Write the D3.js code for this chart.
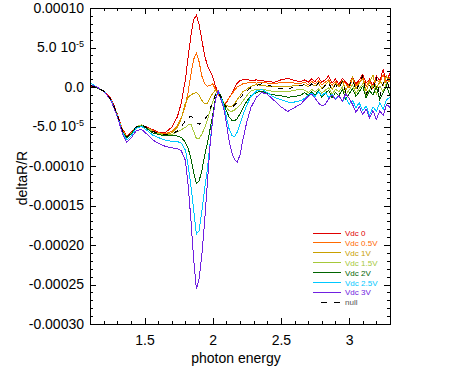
<!DOCTYPE html>
<html>
<head>
<meta charset="utf-8">
<script src="https://cdn.jsdelivr.net/npm/d3@7"></script>
<style>
  body { margin: 0; background: #fff; }
  svg { display: block; font-family: "Liberation Sans", Arial, sans-serif; }
</style>
</head>
<body>
<svg id="chart" width="456" height="388"></svg>
<script>
// photon energy grid (eV)
const energy = [1.10,1.15,1.20,1.25,1.28,1.31,1.34,1.37,1.40,1.44,1.48,1.52,1.56,1.60,1.65,
  1.70,1.74,1.77,
  1.80,1.82,1.84,1.86,1.88,1.90,1.92,1.94,1.96,1.98,2.00,2.02,2.04,2.06,2.08,2.10,2.12,2.14,2.16,2.18,2.20,2.22,
  2.25,2.28,2.32,2.36,2.40,2.45,2.50,2.55,2.60,2.65,
  2.675,2.70,2.725,2.75,2.775,2.80,2.825,2.85,2.875,2.90,2.925,2.95,2.975,3.00,3.025,3.05,3.075,3.10,3.125,3.15,3.175,3.20,3.225,3.25,3.275,3.30];

// deltaR/R values, in units of 1e-5
const vdc0 = [0.1,-0.1,-0.5,-1.4,-2.5,-3.9,-5.4,-6.2,-5.8,-5.0,-4.8,-5.1,-5.4,-5.7,-5.8,
  -5.1,-3.8,-2.0,
  1.0,3.8,6.5,8.5,9.1,7.9,6.0,4.0,2.8,2.0,1.3,0.1,-0.7,-1.4,-2.1,-2.0,-1.4,-0.8,-0.1,0.5,0.8,0.9,
  1.0,0.8,0.9,0.8,0.7,0.6,0.9,1.1,0.8,0.7,
  0.9,0.6,1.0,0.7,1.2,0.6,0.9,1.4,0.5,1.0,0.3,1.1,0.6,0.2,1.3,0.4,0.9,1.6,0.5,1.0,0.2,1.4,0.8,2.2,0.6,1.8];
const vdc05 = [0.2,-0.1,-0.5,-1.5,-2.6,-4.0,-5.5,-6.3,-5.9,-5.1,-4.8,-5.2,-5.5,-5.8,-5.9,
  -5.6,-4.9,-3.9,
  -2.3,-0.6,1.6,3.5,4.3,3.2,1.4,0.4,0.1,0.2,0.4,-0.3,-0.9,-1.5,-2.1,-1.9,-1.4,-0.9,-0.4,0.0,0.2,0.4,
  0.5,0.6,0.5,0.6,0.5,0.4,0.6,0.6,0.5,0.5,
  0.6,0.3,0.7,0.4,0.8,0.3,0.6,0.9,0.2,0.7,0.0,0.8,0.4,-0.1,1.0,0.2,0.6,1.2,0.1,0.8,-0.2,1.0,0.5,1.6,0.3,1.2];
const vdc1 = [0.2,-0.1,-0.5,-1.5,-2.6,-4.0,-5.6,-6.4,-5.9,-5.1,-4.8,-5.2,-5.6,-5.9,-6.0,
  -5.8,-5.1,-4.0,
  -2.0,-1.3,-1.0,-0.8,-0.7,-1.0,-1.7,-2.1,-2.1,-1.4,-0.8,-0.4,-0.5,-1.2,-2.1,-2.3,-2.5,-2.4,-2.1,-1.6,-1.1,-0.6,
  -0.3,0.1,0.3,0.2,0.1,0.0,0.1,0.0,0.2,0.2,
  0.3,0.0,0.4,0.1,0.5,-0.2,0.3,0.7,-0.3,0.4,0.1,0.8,-0.4,0.2,1.2,-0.2,0.5,1.0,-0.5,0.6,1.5,-0.3,0.8,0.2,1.4,0.6];
const vdc15 = [0.2,-0.1,-0.5,-1.5,-2.6,-4.0,-5.6,-6.4,-5.9,-5.0,-4.8,-5.2,-5.6,-5.9,-6.1,
  -6.0,-5.7,-5.4,
  -5.1,-4.8,-4.7,-5.6,-6.5,-6.5,-6.0,-5.2,-4.2,-3.0,-1.9,-0.8,-0.5,-1.2,-2.0,-2.6,-3.0,-3.1,-2.9,-2.6,-2.3,-1.8,
  -1.1,-0.5,-0.3,-0.3,-0.4,-0.6,-0.6,-0.6,-0.4,-0.3,
  -0.4,-0.7,-0.3,-0.6,-0.2,-0.8,-0.4,-0.1,-0.9,-0.3,-0.6,0.0,-1.0,-0.4,0.3,-0.8,-0.2,0.4,-1.1,-0.3,0.2,-0.9,0.1,-0.6,0.6,-0.2];
const vdc2 = [0.2,-0.1,-0.5,-1.5,-2.6,-4.1,-5.7,-6.5,-6.0,-5.1,-4.9,-5.3,-5.8,-6.0,-6.2,
  -6.2,-6.2,-6.4,
  -7.0,-7.8,-9.0,-10.8,-12.2,-11.9,-10.6,-8.7,-7.2,-5.4,-3.5,-1.5,-0.4,-1.1,-2.1,-3.0,-3.8,-4.2,-4.3,-4.0,-3.4,-2.7,
  -1.8,-1.1,-0.7,-0.5,-0.8,-1.0,-1.1,-1.3,-1.2,-1.0,
  -0.7,-1.1,-0.6,-1.0,-0.5,-1.3,-0.8,-0.4,-1.4,-0.7,-1.1,-0.3,-1.5,-0.9,-0.2,-1.2,-0.6,0.1,-1.4,-0.5,-1.0,0.0,-1.6,-0.7,0.2,-1.1];
const vdc25 = [0.5,0.0,-0.5,-1.5,-2.7,-4.2,-5.8,-6.7,-6.2,-5.2,-5.0,-5.5,-6.1,-6.4,-6.7,
  -6.9,-6.9,-7.1,
  -8.0,-10.0,-12.5,-15.5,-18.6,-18.2,-15.8,-13.0,-10.5,-7.2,-4.0,-1.6,-0.4,-1.3,-2.3,-3.8,-5.3,-6.1,-6.3,-5.7,-4.7,-3.6,
  -2.3,-1.2,-0.5,-0.3,-0.7,-1.3,-1.6,-1.9,-1.9,-1.7,
  -1.4,-1.0,-0.8,-1.2,-0.6,-1.1,-0.7,-1.3,-0.9,-1.5,-1.1,-1.8,-1.3,-2.2,-1.7,-2.6,-2.0,-3.0,-2.4,-3.6,-2.5,-3.1,-2.0,-2.8,-1.6,-1.3];
const vdc3 = [0.3,0.0,-0.5,-1.6,-2.8,-4.3,-6.0,-7.0,-6.5,-5.5,-5.4,-6.0,-6.7,-7.1,-7.5,
  -7.7,-7.8,-8.1,
  -9.3,-12.5,-16.8,-21.8,-25.6,-24.3,-21.3,-17.2,-12.3,-7.5,-4.0,-1.6,-0.5,-1.6,-2.6,-4.5,-6.8,-8.3,-9.2,-9.5,-8.6,-6.8,
  -4.4,-2.6,-1.3,-0.7,-0.9,-1.7,-2.5,-3.1,-2.6,-2.1,
  -1.6,-1.2,-0.9,-1.4,-2.0,-2.4,-2.2,-1.5,-1.0,-1.6,-1.1,-1.8,-0.9,-1.4,-2.2,-3.2,-2.5,-3.5,-2.8,-3.9,-3.0,-4.1,-3.0,-3.6,-2.2,-2.6];
const nullRun = [0.2,-0.1,-0.5,-1.5,-2.6,-4.0,-5.6,-6.3,-5.9,-5.0,-4.8,-5.2,-5.6,-5.9,-6.0,
  -5.9,-5.6,-5.0,
  -4.3,-3.9,-3.7,-4.0,-4.5,-4.7,-4.6,-4.2,-3.6,-2.8,-1.9,-1.0,-0.6,-1.3,-2.1,-2.5,-2.7,-2.6,-2.3,-1.9,-1.4,-1.0,
  -0.5,-0.1,0.2,0.4,0.3,0.0,-0.2,-0.3,0.1,0.2,
  0.3,0.0,0.4,-0.1,0.5,-0.3,0.2,0.6,-0.4,0.3,-0.2,0.7,-0.6,0.1,1.0,-0.5,0.4,1.4,-1.0,0.2,-0.6,1.3,-1.3,0.5,1.0,-0.4];

const seriesNames = ["Vdc 0", "Vdc 0.5V", "Vdc 1V", "Vdc 1.5V", "Vdc 2V", "Vdc 2.5V", "Vdc 3V", "null"];
const seriesValues = [vdc0, vdc05, vdc1, vdc15, vdc2, vdc25, vdc3, nullRun];
const seriesColors = ["#e00000", "#ff6a00", "#c8a000", "#a6c83a", "#006400", "#00c8ff", "#7020e0", "#000000"];

const xTicks = [1.5, 2, 2.5, 3];
const xTickLabels = ["1.5", "2", "2.5", "3"];
const yTicks = [1e-4, 5e-5, 0, -5e-5, -1e-4, -1.5e-4, -2e-4, -2.5e-4, -3e-4];
const yTickLabels = ["0.00010", "5.0 10^-5", "0.0", "-5.0 10^-5", "-0.00010", "-0.00015", "-0.00020", "-0.00025", "-0.00030"];

const svg = d3.select("#chart");
const plotLeft = 90, plotRight = 390, plotTop = 8, plotBottom = 324;

const x = d3.scaleLinear().domain([1.1, 3.3]).range([plotLeft, plotRight]);
const y = d3.scaleLinear().domain([-3e-4, 1e-4]).range([plotBottom, plotTop]);

const xMinor = d3.range(11, 34).map(k => k / 10);
const yMinor = d3.range(-30, 11).map(k => k * 1e-5);

// curves
const line = d3.line()
  .x((d, i) => x(energy[i]))
  .y(d => y(d * 1e-5));

const curves = svg.append("g");
seriesValues.forEach((vals, s) => {
  curves.append("path")
    .datum(vals)
    .attr("d", line)
    .attr("fill", "none")
    .attr("stroke", seriesColors[s])
    .attr("stroke-width", 1)
    .attr("stroke-dasharray", seriesNames[s] === "null" ? "5,6" : null)
    .attr("shape-rendering", "crispEdges");
});

// axes, ticks pointing inward on all four sides
function styleAxis(g) {
  g.select(".domain").remove();
  g.selectAll("line").attr("stroke", "#000").attr("shape-rendering", "crispEdges");
  g.selectAll("text").attr("fill", "#000").style("font-size", "14px")
    .style("font-family", '"Liberation Sans", Arial, sans-serif');
}

svg.append("g").attr("transform", `translate(0,${plotBottom})`)
  .call(d3.axisBottom(x).tickValues(xMinor).tickSize(-3).tickFormat("")).call(styleAxis);
svg.append("g").attr("transform", `translate(0,${plotBottom})`)
  .call(d3.axisBottom(x).tickValues(xTicks).tickSize(-6).tickPadding(11)
    .tickFormat((d, i) => xTickLabels[i])).call(styleAxis);
svg.append("g").attr("transform", `translate(0,${plotTop})`)
  .call(d3.axisTop(x).tickValues(xMinor).tickSize(-3).tickFormat("")).call(styleAxis);
svg.append("g").attr("transform", `translate(0,${plotTop})`)
  .call(d3.axisTop(x).tickValues(xTicks).tickSize(-6).tickFormat("")).call(styleAxis);

svg.append("g").attr("transform", `translate(${plotLeft},0)`)
  .call(d3.axisLeft(y).tickValues(yMinor).tickSize(-3).tickFormat("")).call(styleAxis);
const yAxis = svg.append("g").attr("transform", `translate(${plotLeft},0)`)
  .call(d3.axisLeft(y).tickValues(yTicks).tickSize(-6).tickPadding(6)
    .tickFormat((d, i) => yTickLabels[i])).call(styleAxis);
svg.append("g").attr("transform", `translate(${plotRight},0)`)
  .call(d3.axisRight(y).tickValues(yMinor).tickSize(-3).tickFormat("")).call(styleAxis);
svg.append("g").attr("transform", `translate(${plotRight},0)`)
  .call(d3.axisRight(y).tickValues(yTicks).tickSize(-6).tickFormat("")).call(styleAxis);

// superscript exponents
yAxis.selectAll("text").each(function () {
  const t = d3.select(this);
  const label = t.text();
  if (label.includes("^")) {
    const [base, exp] = label.split("^");
    t.text(base);
    t.append("tspan").attr("dy", "-5").style("font-size", "9px").text(exp);
  }
});

// frame
svg.append("rect")
  .attr("x", plotLeft).attr("y", plotTop)
  .attr("width", plotRight - plotLeft).attr("height", plotBottom - plotTop)
  .attr("fill", "none").attr("stroke", "#000").attr("shape-rendering", "crispEdges");

// titles
svg.append("text")
  .attr("x", 236).attr("y", 363)
  .attr("text-anchor", "middle")
  .style("font-size", "14px")
  .text("photon energy");

svg.append("text")
  .attr("transform", "translate(27,178) rotate(-90)")
  .attr("text-anchor", "middle")
  .style("font-size", "14px")
  .text("deltaR/R");

// legend
const legend = svg.append("g").attr("transform", "translate(313,233)");
seriesNames.forEach((name, i) => {
  const row = legend.append("g").attr("transform", `translate(0,${i * 9.9})`);
  if (name === "null") {
    row.append("line").attr("x1", 8).attr("x2", 28).attr("y1", 0).attr("y2", 0)
      .attr("stroke", "#000").attr("stroke-dasharray", "6,7").attr("shape-rendering", "crispEdges");
  } else {
    row.append("line").attr("x1", 0).attr("x2", 28).attr("y1", 0).attr("y2", 0)
      .attr("stroke", seriesColors[i]).attr("shape-rendering", "crispEdges");
  }
  row.append("text")
    .attr("x", 32).attr("y", 3)
    .style("font-size", "8px")
    .attr("fill", name === "null" ? "#555" : seriesColors[i])
    .text(name);
});
</script>
</body>
</html>
